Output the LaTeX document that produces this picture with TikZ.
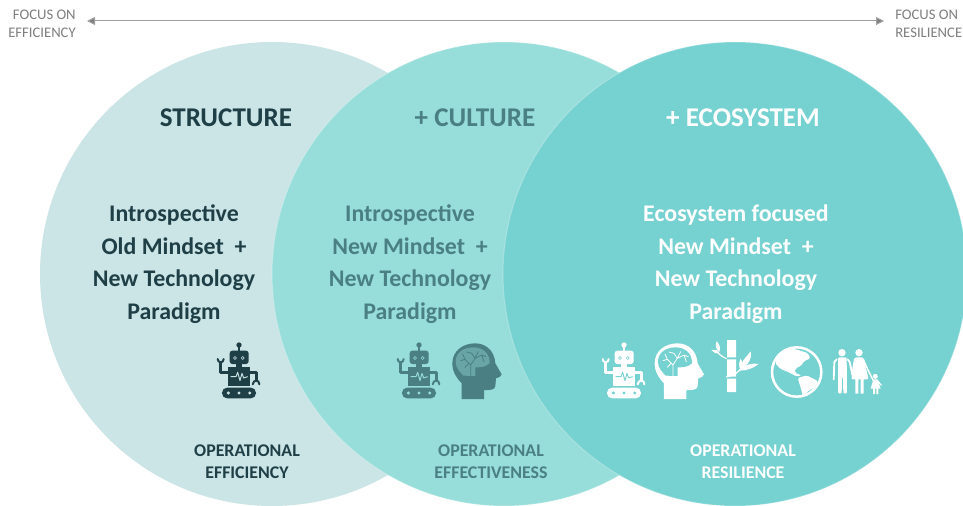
\documentclass[tikz,border=0pt]{standalone}
\usepackage{fontspec}
\setmainfont{Carlito}
\usetikzlibrary{arrows.meta}
\definecolor{circA}{HTML}{CBE4E6}
\definecolor{circB}{HTML}{97DEDA}
\definecolor{circC}{HTML}{76D1D1}
\definecolor{inkA}{HTML}{1F3F47}
\definecolor{inkB}{HTML}{4A7F83}
\definecolor{inkG}{HTML}{7F7F7F}
\definecolor{lineG}{HTML}{A0A0A0}
\tikzset{
  venn/.style={draw=white,draw opacity=.25,line width=.8pt},
  title/.style={font=\fontsize{20.3}{22}\selectfont\bfseries,inner sep=0pt,anchor=center,text height=14.5pt,text depth=0pt},
  body/.style={font=\fontsize{17.9}{20}\selectfont\bfseries,inner sep=0pt,anchor=center,text height=13pt,text depth=0pt},
  foot/.style={font=\fontsize{13.4}{15}\selectfont\bfseries,inner sep=0pt,anchor=center,text height=10pt,text depth=0pt},
  side/.style={font=\fontsize{11}{13}\selectfont,text=inkG,inner sep=0pt,text height=8pt,text depth=0pt},
}
\newcommand{\robotic}[4]{% x y fg bg
\begin{scope}[shift={(#1,#2)},scale=1/3]
 \draw[#3,line width=1pt] (117,45)--(117,65);
 \fill[#3] (117,45) circle[radius=8];
 \fill[#3,rounded corners=2pt] (89,62) rectangle (146,102);
 \fill[#4] (105,84) circle[radius=5.5] (128,84) circle[radius=5.5];
 \fill[#3] (105,84) circle[radius=2.5] (128,84) circle[radius=2.5];
 \fill[#3] (108,100) rectangle (127,114);
 \fill[#3] (84,112) rectangle (150,167);
 \draw[#4,line width=.7pt,line join=round] (92,140)--(108,140)--(113,127)--(120,152)--(126,130)--(131,144)--(143,140);
 \draw[#3,line width=1.9pt,line join=round] (84,127)--(62,127)--(62,100);
 \draw[#3,line width=1.5pt,line cap=round] (53,87) .. controls (53,100) and (71,100) .. (71,87);
 \draw[#3,line width=1.9pt,line join=round] (150,127)--(170,127)--(170,150);
 \draw[#3,line width=1.5pt,line cap=round] (158,163) .. controls (160,148) and (178,148) .. (178,163);
 \fill[#3,rounded corners=3.8pt] (66,173) rectangle (168,205);
 \fill[#4] (85,189) circle[radius=5] (117,189) circle[radius=5] (149,189) circle[radius=5];
\end{scope}}
\newcommand{\headbrain}[4]{% x y fg bg
\begin{scope}[shift={(#1,#2)},scale=1/3]
 \fill[#3] (785,207) -- (785,160) .. controls (770,145) and (757,125) .. (757,100)
   .. controls (757,62) and (790,40) .. (825,40)
   .. controls (860,40) and (884,65) .. (886,100)
   -- (905,133) .. controls (905,140) and (895,143) .. (888,145)
   -- (886,168) .. controls (885,178) and (875,181) .. (852,180) -- (852,207) -- cycle;
 \fill[#4] (790,137) .. controls (780,125) and (767,115) .. (767,95)
   .. controls (767,65) and (795,52) .. (820,52)
   .. controls (850,52) and (870,72) .. (869,100)
   .. controls (855,112) and (840,112) .. (826,112) -- (826,138) -- cycle;
 \draw[#3,line width=.6pt,line cap=round,line join=round]
   (812,137)--(812,105)--(795,88)--(782,92) (795,88)--(788,72) (812,105)--(825,85)--(815,70)--(800,66)
   (825,85)--(845,75)--(858,80) (845,75)--(852,95) (825,85)--(835,65) (795,112)--(806,100);
\end{scope}}
\newcommand{\bamboo}[3]{%
\begin{scope}[shift={(#1,#2)},scale=1/3]
 \fill[#3] (411,30) rectangle (438,82) (411,88) rectangle (438,140) (411,146) rectangle (438,186);
 \draw[#3,line width=.9pt,line cap=round] (409,86) .. controls (395,80) and (385,70) .. (378,62);
 \draw[#3,line width=.9pt,line cap=round] (409,141) .. controls (430,138) and (445,128) .. (455,112);
 \fill[#3] (388,70) .. controls (375,72) and (370,66) .. (364,60) .. controls (375,58) and (385,60) .. cycle;
 \fill[#3] (388,66) .. controls (376,58) and (376,45) .. (380,33) .. controls (390,45) and (392,55) .. cycle;
 \fill[#3] (452,118) .. controls (450,95) and (470,80) .. (482,64) .. controls (488,85) and (475,105) .. cycle;
 \fill[#3] (448,122) .. controls (470,122) and (490,115) .. (506,102) .. controls (490,98) and (465,102) .. cycle;
 \fill[#3] (452,120) .. controls (445,110) and (447,95) .. (452,86) .. controls (460,98) and (460,110) .. cycle;
\end{scope}}
\newcommand{\earth}[3]{%
\begin{scope}[shift={(#1,#2)},scale=1/3]
 \draw[#3,line width=1.9pt] (95,90) circle[radius=74];
 \fill[#3,rounded corners=1.5pt] (30,62)--(45,32)--(75,18)--(100,24)--(130,34)--(136,50)--(118,56)--(108,72)--(92,78)--(88,92)--(110,100)--(95,104)--(70,90)--(48,82)--(38,72)--cycle;
 \fill[#3,rounded corners=1.5pt] (98,108)--(125,100)--(160,118)--(150,136)--(125,150)--(115,168)--(108,140)--cycle;
\end{scope}}
\newcommand{\family}[3]{%
\begin{scope}[shift={(#1,#2)},scale=1/3]
 \fill[#3] (42,32) circle[radius=11] (93,32) circle[radius=11] (142,103) circle[radius=7.5];
 \fill[#3,rounded corners=1pt] (30,46) -- (56,46) -- (57,155) -- (46,155) -- (45,105) -- (42,105) -- (41,155) -- (30,155) -- cycle;
 \draw[#3,line width=1.4pt,line cap=round,line join=round] (26,52)--(19,60)--(17,112) (59,52)--(65,60)--(73,98);
 \fill[#3,rounded corners=1pt] (80,46) -- (106,46) -- (122,112) -- (70,112) -- cycle;
 \fill[#3] (82,110) rectangle (91,155) (98,110) rectangle (107,155);
 \draw[#3,line width=1.1pt,line cap=round,line join=round] (80,52)--(72,98) (106,52)--(118,80)--(137,118);
 \fill[#3] (136,112) -- (149,112) -- (158,140) -- (128,140) -- cycle;
 \fill[#3] (135,138) rectangle (141,156) (145,138) rectangle (151,156);
 \draw[#3,line width=.8pt,line cap=round] (149,116)--(160,130);
\end{scope}}
\begin{document}
\begin{tikzpicture}[x=.75pt,y=-.75pt]
\useasboundingbox (0,0) rectangle (963,506);
\fill[white] (0,0) rectangle (963,506);
\fill[circA] (272,274) circle[radius=232];
\fill[circB,venn] (504,274) circle[radius=232];
\begin{scope}
\clip (0,0) rectangle (963,506);
\fill[circC,venn] (735,274) circle[radius=232];
\end{scope}

\coordinate (arrL) at (87,21);
\coordinate (arrR) at (884,21);
\draw[lineG,line width=.75pt,{Triangle[length=6pt,width=6pt,fill=inkG]}-{Triangle[length=6pt,width=6pt,fill=inkG]}] (arrL) -- (arrR);

\node[side,anchor=east] (sideA1) at (76,14) {FOCUS ON};
\node[side,anchor=east] (sideA2) at (76,32) {EFFICIENCY};
\node[side,anchor=west] (sideB1) at (895,14) {FOCUS ON};
\node[side,anchor=west] (sideB2) at (895,32) {RESILIENCE};

\node[title,text=inkA] (t1) at (226,117) {STRUCTURE};
\node[title,text=inkB] (t2) at (475,117) {+ CULTURE};
\node[title,text=white] (t3) at (743,117) {+ ECOSYSTEM};

\node[body,text=inkA] (a1) at (174,213) {Introspective};
\node[body,text=inkA] (a2) at (174,246) {Old Mindset~ +};
\node[body,text=inkA] (a3) at (174,278) {New Technology};
\node[body,text=inkA] (a4) at (174,311) {Paradigm};

\node[body,text=inkB] (b1) at (410,213) {Introspective};
\node[body,text=inkB] (b2) at (410,246) {New Mindset~ +};
\node[body,text=inkB] (b3) at (410,278) {New Technology};
\node[body,text=inkB] (b4) at (410,311) {Paradigm};

\node[body,text=white] (c1) at (736,213) {Ecosystem focused};
\node[body,text=white] (c2) at (736,246) {New Mindset~ +};
\node[body,text=white] (c3) at (736,278) {New Technology};
\node[body,text=white] (c4) at (736,311) {Paradigm};

\node[foot,text=inkA] (f1) at (247,450) {OPERATIONAL};
\node[foot,text=inkA] (f2) at (247,472) {EFFICIENCY};
\node[foot,text=inkB] (g1) at (491,450) {OPERATIONAL};
\node[foot,text=inkB] (g2) at (491,472) {EFFECTIVENESS};
\node[foot,text=white] (h1) at (743,450) {OPERATIONAL};
\node[foot,text=white] (h2) at (743,472) {RESILIENCE};

\robotic{200}{330}{inkA}{circA}
\robotic{380}{330}{inkB}{circB}
\headbrain{200}{330}{inkB}{circB!40!inkB}
\robotic{585}{330}{white}{circC}
\headbrain{402.3}{330}{white}{circC}
\bamboo{590}{330}{white}
\earth{765}{342}{white}
\family{828}{342}{white}
\end{tikzpicture}
\end{document}
